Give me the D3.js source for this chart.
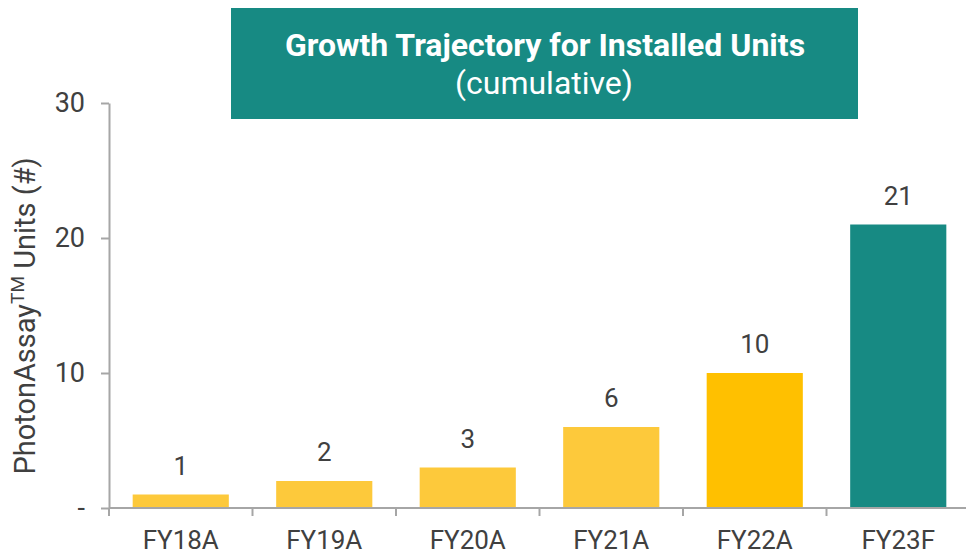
<!DOCTYPE html>
<html>
<head>
<meta charset="utf-8">
<script src="https://cdn.jsdelivr.net/npm/d3@7"></script>
<style>
  body { margin: 0; background: #fff; }
  svg { display: block; font-family: Roboto, "Open Sans", sans-serif; }
</style>
</head>
<body>
<div id="chart"></div>
<script>
// data
var years = ["FY18A", "FY19A", "FY20A", "FY21A", "FY22A", "FY23F"];
var units = [1, 2, 3, 6, 10, 21];
var barColors = ["#FDC93B", "#FDC93B", "#FDC93B", "#FDC93B", "#FFC000", "#178A83"];
var yTicks = [0, 10, 20, 30];

var width = 966, height = 554;
var margin = {top: 103, right: -4, bottom: 46, left: 109};

var svg = d3.select("#chart").append("svg")
    .attr("width", width)
    .attr("height", height);

var x = d3.scaleBand()
    .domain(years)
    .range([margin.left, width - margin.right])
    .paddingInner(0.33)
    .paddingOuter(0.165);

var y = d3.scaleLinear()
    .domain([0, 30])
    .range([height - margin.bottom, margin.top]);

// bars
svg.append("g").selectAll("rect")
    .data(units)
    .enter().append("rect")
    .attr("x", function(d, i) { return x(years[i]); })
    .attr("y", function(d) { return y(d); })
    .attr("width", x.bandwidth())
    .attr("height", function(d) { return y(0) - y(d); })
    .attr("fill", function(d, i) { return barColors[i]; });

// value labels
svg.append("g").selectAll("text")
    .data(units)
    .enter().append("text")
    .attr("x", function(d, i) { return x(years[i]) + x.bandwidth() / 2; })
    .attr("y", function(d) { return y(d) - 20; })
    .attr("text-anchor", "middle")
    .attr("fill", "#404040")
    .style("font-size", "26px")
    .text(function(d) { return d; });

// x axis: ticks sit on band boundaries
var step = x.step();
var xAxis = svg.append("g")
    .attr("transform", "translate(0," + y(0) + ")");
xAxis.append("line")
    .attr("x1", margin.left).attr("x2", width)
    .attr("stroke", "#a6a6a6").attr("stroke-width", 2);
xAxis.selectAll("line.tick")
    .data(years)
    .enter().append("line")
    .attr("class", "tick")
    .attr("x1", function(d) { return x(d) - x.paddingOuter() * step; })
    .attr("x2", function(d) { return x(d) - x.paddingOuter() * step; })
    .attr("y1", 0).attr("y2", 8)
    .attr("stroke", "#a6a6a6").attr("stroke-width", 2);
xAxis.selectAll("text")
    .data(years)
    .enter().append("text")
    .attr("x", function(d) { return x(d) + x.bandwidth() / 2; })
    .attr("y", 41)
    .attr("text-anchor", "middle")
    .attr("fill", "#404040")
    .style("font-size", "26px")
    .text(function(d) { return d; });

// y axis
var yAxis = svg.append("g")
    .attr("transform", "translate(" + margin.left + ",0)")
    .call(d3.axisLeft(y)
        .tickValues(yTicks)
        .tickSize(8)
        .tickSizeOuter(0)
        .tickPadding(16)
        .tickFormat(function(d) { return d === 0 ? "-" : d; }));
yAxis.select(".domain").attr("stroke", "#a6a6a6").attr("stroke-width", 2);
yAxis.selectAll(".tick line").attr("stroke", "#a6a6a6").attr("stroke-width", 2);
yAxis.selectAll(".tick text")
    .attr("fill", "#404040")
    .style("font-size", "27px")
    .style("font-family", "Roboto, sans-serif");

// y axis title
var yTitle = svg.append("text")
    .attr("transform", "translate(35," + 316 + ") rotate(-90)")
    .attr("text-anchor", "middle")
    .attr("fill", "#404040")
    .style("font-size", "29px");
yTitle.append("tspan").text("PhotonAssay");
yTitle.append("tspan").attr("dy", -11).style("font-size", "19px").text("TM");
yTitle.append("tspan").attr("dy", 11).text(" Units (#)");

// title box
svg.append("rect")
    .attr("x", 231).attr("y", 8)
    .attr("width", 627).attr("height", 111)
    .attr("fill", "#178A83");
svg.append("text")
    .attr("x", 545).attr("y", 56)
    .attr("text-anchor", "middle")
    .attr("fill", "#fff")
    .style("font-size", "32px")
    .style("font-weight", "bold")
    .text("Growth Trajectory for Installed Units");
svg.append("text")
    .attr("x", 544).attr("y", 94)
    .attr("text-anchor", "middle")
    .attr("fill", "#fff")
    .style("font-size", "32px")
    .text("(cumulative)");
</script>
</body>
</html>
